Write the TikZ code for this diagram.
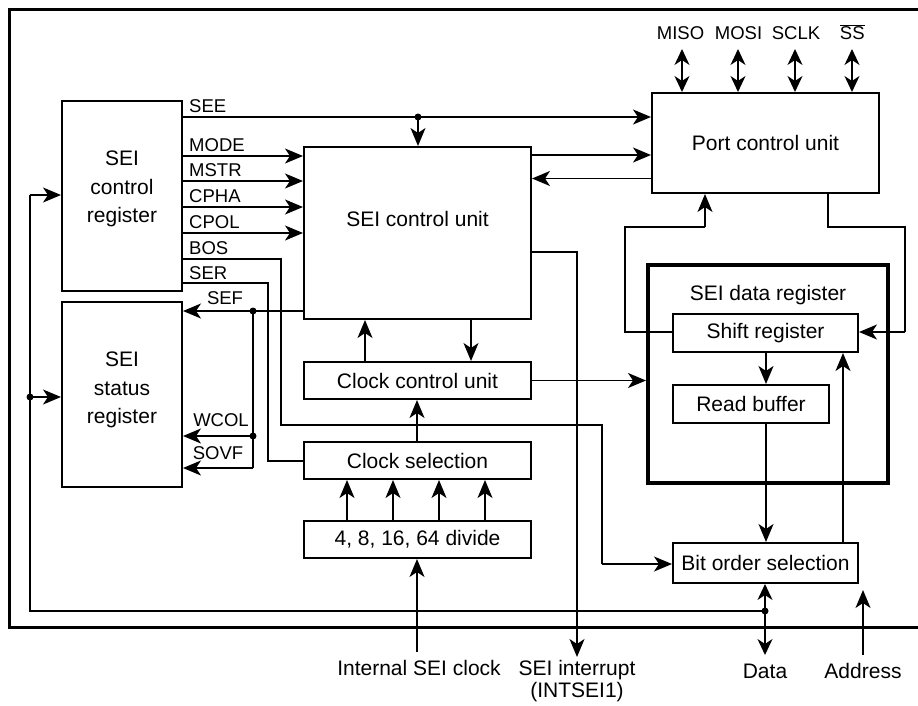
\documentclass[tikz,border=0pt]{standalone}
\usepackage{fontspec}
\setmainfont{Liberation Sans}
\usetikzlibrary{arrows.meta}
\begin{document}
\begin{tikzpicture}[x=1pt,y=-1pt,
  box/.style={draw,line width=2pt,inner sep=0pt,font=\fontsize{21}{24}\selectfont},
  conn/.style={line width=1.8pt},
  arr/.style={conn,-{Stealth[length=18pt,width=15pt,inset=5pt]}},
  darr/.style={conn,{Stealth[length=16pt,width=15pt,inset=5pt]}-{Stealth[length=16pt,width=15pt,inset=5pt]}},
  sig/.style={font=\fontsize{18.5}{20}\selectfont,inner sep=0pt},
  txt/.style={font=\fontsize{21}{28.5}\selectfont,inner sep=0pt,align=center},
  dot/.style={circle,fill,inner sep=0pt,minimum size=7pt}]
\useasboundingbox (0,0) rectangle (918,705);
% frame
\draw[line width=3pt] (918,9) -- (9,9) -- (9,627) -- (918,627);

% boxes
\node[box,minimum width=120pt,minimum height=190pt] (creg) at (122,196) {};
\node[txt] at (122,189) {SEI\\control\\register};
\node[box,minimum width=120pt,minimum height=185pt] (sreg) at (122,394.5) {};
\node[txt] at (122,390) {SEI\\status\\register};
\node[box,minimum width=227pt,minimum height=172pt] (scu) at (417.5,233) {};
\node[txt] at (417.5,219) {SEI control unit};
\node[box,minimum width=227pt,minimum height=100pt] (pcu) at (765.5,143) {Port control unit};
\node[box,minimum width=227pt,minimum height=37pt] (ccu) at (417.5,380.5) {Clock control unit};
\node[box,minimum width=227pt,minimum height=37pt] (csel) at (417.5,460.5) {Clock selection};
\node[box,minimum width=227pt,minimum height=37pt] (div) at (417.5,539.5) {4, 8, 16, 64 divide};
\node[draw,line width=4pt,minimum width=240pt,minimum height=218pt,inner sep=0pt] (dreg) at (768,374) {};
\node[txt] at (768,295) {SEI data register};
\node[box,minimum width=185pt,minimum height=38pt] (shreg) at (765.5,333) {Shift register};
\node[box,minimum width=156pt,minimum height=38pt] (rbuf) at (751,404) {Read buffer};
\node[box,minimum width=185pt,minimum height=40pt] (bos) at (765.5,563) {Bit order selection};

% signal lines from control register
\draw[arr] (creg.east |- 0,117) -- (pcu.west |- 0,117);
\node[dot] (d1) at (418,117) {};
\draw[arr] (d1.center) -- (scu.north -| d1);
\node[sig,anchor=base west] at (189,112) {SEE};
\draw[arr] (creg.east |- 0,156) -- (scu.west |- 0,156);
\node[sig,anchor=base west] at (189,151) {MODE};
\draw[arr] (creg.east |- 0,181) -- (scu.west |- 0,181);
\node[sig,anchor=base west] at (189,176) {MSTR};
\draw[arr] (creg.east |- 0,207) -- (scu.west |- 0,207);
\node[sig,anchor=base west] at (189,202) {CPHA};
\draw[arr] (creg.east |- 0,233) -- (scu.west |- 0,233);
\node[sig,anchor=base west] at (189,228) {CPOL};
\draw[conn] (creg.east |- 0,259) -- (281,259) -- (281,425) -- (602,425) -- (602,564);
\draw[arr] (602,564) -- (bos.west |- 0,564);
\node[sig,anchor=base west] at (189,254) {BOS};
\draw[conn] (creg.east |- 0,283) -- (268,283) -- (268,461) -- (csel.west |- 0,461);
\node[sig,anchor=base west] at (189,279) {SER};

% status flags
\node[dot] (d2) at (253,311) {};
\node[dot] (d3) at (253,436) {};
\draw[arr] (scu.west |- 0,311) -- (sreg.east |- 0,311);
\draw[conn] (d2.center) -- (253,468);
\draw[arr] (253,468) -- (sreg.east |- 0,468);
\draw[arr] (d3.center) -- (sreg.east |- 0,436);
\node[sig,anchor=base] at (225,304.5) {SEF};
\node[sig,anchor=base] at (221,426) {WCOL};
\node[sig,anchor=base] at (218,459.5) {SOVF};

% SCU <-> PCU
\draw[arr] (scu.east |- 0,155) -- (pcu.west |- 0,155);
\draw[arr] (pcu.west |- 0,178.5) -- (scu.east |- 0,178.5);

% interrupt
\coordinate (intb) at (577,657);
\draw[arr] (scu.east |- 0,252) -- (577,252) -- (intb);
\node[txt,anchor=base] at (577,675.5) {SEI interrupt};
\node[txt,anchor=base] at (577,697.5) {(INTSEI1)};

% SCU <-> CCU
\draw[arr] (ccu.north -| 365,0) -- (scu.south -| 365,0);
\draw[arr] (scu.south -| 471,0) -- (ccu.north -| 471,0);
\draw[arr] (ccu.east |- 0,380.5) -- (dreg.west |- 0,380.5);
\draw[arr] (csel.north -| 417,0) -- (ccu.south -| 417,0);
\foreach \x in {347,393,439,485} \draw[arr] (div.north -| \x,0) -- (csel.south -| \x,0);
\coordinate (clkin) at (417,652);
\draw[arr] (clkin) -- (div.south -| clkin);
\node[txt,anchor=base] at (419,675.5) {Internal SEI clock};

% pins
\foreach \x/\n in {682/MISO,738/MOSI,795/SCLK,852/SS} {
  \coordinate (p\n) at (\x,49);
  \draw[darr] (p\n) -- (pcu.north -| p\n);
}
\node[sig,anchor=base] at (680.5,39.5) {MISO};
\node[sig,anchor=base] at (738.5,39.5) {MOSI};
\node[sig,anchor=base] at (796,39.5) {SCLK};
\node[sig,anchor=base] at (852.3,39.5) {$\overline{\mbox{SS}}$};

% PCU <-> shift register
\draw[conn] (pcu.south -| 828,0) -- (828,227) -- (905,227) -- (905,332);
\draw[arr] (905,332) -- (shreg.east |- 0,332);
\draw[conn] (shreg.west |- 0,332) -- (625,332) -- (625,227) -- (705,227);
\draw[arr] (705,227) -- (pcu.south -| 705,0);

% data path
\draw[arr] (shreg.south -| 766,0) -- (rbuf.north -| 766,0);
\draw[arr] (rbuf.south -| 766,0) -- (bos.north -| 766,0);
\draw[arr] (bos.north -| 843,0) -- (shreg.south -| 843,0);
\coordinate (dataend) at (765,655);
\draw[darr] (bos.south -| dataend) -- (dataend);
\node[txt,anchor=base] at (765,678) {Data};
\coordinate (addr) at (863,655);
\draw[arr] (addr) -- (863,590);
\node[txt,anchor=base] at (863,678) {Address};

% feedback line
\node[dot] (d4) at (765,611) {};
\node[dot] (d5) at (30,397) {};
\draw[conn] (d4.center) -- (30,611) -- (30,195);
\draw[arr] (30,195) -- (creg.west |- 0,195);
\draw[arr] (d5.center) -- (sreg.west |- 0,397);
\end{tikzpicture}
\end{document}
